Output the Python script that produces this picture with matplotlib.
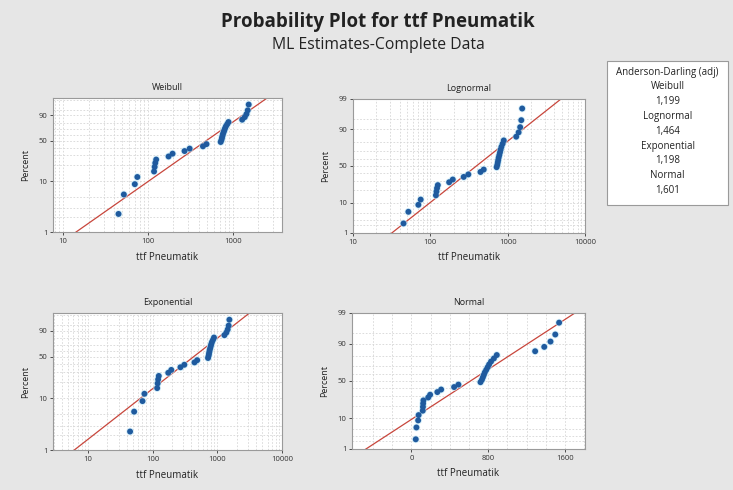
from statistics import NormalDist

import numpy as np
import matplotlib
matplotlib.use("Agg")
import matplotlib.pyplot as plt
from matplotlib.patches import Rectangle

plt.rcParams["font.family"] = ["Open Sans", "DejaVu Sans"]

# ttf values (sorted)
ttf = np.array([45, 52, 70, 75, 118, 120, 122, 125, 175, 195, 270, 310, 445, 490,
                720, 735, 745, 755, 765, 780, 795, 810, 830, 860, 890,
                1290, 1385, 1450, 1500, 1540], dtype=float)
ad_names = ["Weibull", "Lognormal", "Exponential", "Normal"]
ad_values = ["1,199", "1,464", "1,198", "1,601"]

BLUE = "#1f5a9e"
RED = "#c8463c"
GRID = "#d6d6d6"
BG = "#e6e6e6"

nd = NormalDist()
n = len(ttf)
pct = 100 * (np.arange(1, n + 1) - 0.3) / (n + 0.4)  # median ranks

inv_cdf = np.vectorize(nd.inv_cdf, otypes=[float])
cdf = np.vectorize(nd.cdf, otypes=[float])


# ---- probability scales ------------------------------------------------------
def _clip(p):
    return np.clip(np.asarray(p, dtype=float) / 100, 1e-9, 1 - 1e-9)


def norm_fwd(p):
    return inv_cdf(_clip(p))


def norm_inv(z):
    return 100 * cdf(np.asarray(z, dtype=float))


def sev_fwd(p):
    return np.log(-np.log(1 - _clip(p)))


def sev_inv(w):
    return 100 * (1 - np.exp(-np.exp(np.asarray(w, dtype=float))))


# ---- ML fits -----------------------------------------------------------------
def weibull_ml(x):
    lx = np.log(x)
    k = 1.0
    for _ in range(200):
        xk = x ** k
        s0, s1, s2 = xk.sum(), (xk * lx).sum(), (xk * lx ** 2).sum()
        f = s1 / s0 - 1 / k - lx.mean()
        df = (s2 * s0 - s1 ** 2) / s0 ** 2 + 1 / k ** 2
        k -= f / df
    lam = np.mean(x ** k) ** (1 / k)
    return k, lam


k_w, lam_w = weibull_ml(ttf)
mu_ln, sd_ln = np.log(ttf).mean(), np.log(ttf).std()
theta = ttf.mean()
mu_n, sd_n = ttf.mean(), ttf.std()

pgrid = np.linspace(0.05, 99.99, 600) / 100
lines = {
    "Weibull": lam_w * (-np.log(1 - pgrid)) ** (1 / k_w),
    "Lognormal": np.exp(mu_ln + sd_ln * inv_cdf(pgrid)),
    "Exponential": -theta * np.log(1 - pgrid),
    "Normal": mu_n + sd_n * inv_cdf(pgrid),
}

fig = plt.figure(figsize=(7.33, 4.90), dpi=100, facecolor=BG)

panels = {
    "Weibull": dict(rect=[0.0723, 0.5265, 0.3124, 0.2735], xlog=True, xlim=(7.6, 3800),
                    xt=[10, 100, 1000], yscale=(sev_fwd, sev_inv), ylim=(1, 99.4),
                    yt=[1, 10, 50, 90]),
    "Lognormal": dict(rect=[0.4816, 0.5245, 0.3165, 0.2735], xlog=True, xlim=(10, 10000),
                      xt=[10, 100, 1000, 10000], yscale=(norm_fwd, norm_inv), ylim=(1, 99),
                      yt=[1, 10, 50, 90, 99]),
    "Exponential": dict(rect=[0.0723, 0.0816, 0.3124, 0.2796], xlog=True, xlim=(2.9, 10000),
                        xt=[10, 100, 1000, 10000], yscale=(sev_fwd, sev_inv), ylim=(1, 99.4),
                        yt=[1, 10, 50, 90]),
    "Normal": dict(rect=[0.4802, 0.0837, 0.3179, 0.2776], xlog=False, xlim=(-620, 1810),
                   xt=[0, 800, 1600], yscale=(norm_fwd, norm_inv), ylim=(1, 99),
                   yt=[1, 10, 50, 90, 99]),
}
pct_grid = [1, 2, 3, 5, 10, 20, 30, 40, 50, 60, 70, 80, 90, 95, 99]

for name, cfg in panels.items():
    ax = fig.add_axes(cfg["rect"])
    ax.set_facecolor("white")
    if cfg["xlog"]:
        ax.set_xscale("log")
    ax.set_yscale("function", functions=cfg["yscale"])
    ax.set_xlim(*cfg["xlim"])
    ax.set_ylim(*cfg["ylim"])

    # grid
    if cfg["xlog"]:
        lo, hi = np.floor(np.log10(cfg["xlim"][0])), np.ceil(np.log10(cfg["xlim"][1]))
        gx = [m * 10 ** e for e in np.arange(lo, hi) for m in range(1, 10)]
    else:
        gx = np.arange(-400, 1801, 200)
    for g in gx:
        if cfg["xlim"][0] < g < cfg["xlim"][1]:
            ax.axvline(g, color=GRID, lw=0.6, ls=(0, (2, 2)), zorder=0)
    for g in pct_grid:
        if cfg["ylim"][0] < g < cfg["ylim"][1]:
            ax.axhline(g, color=GRID, lw=0.6, ls=(0, (2, 2)), zorder=0)

    ax.plot(lines[name], 100 * pgrid, color=RED, lw=0.9, zorder=2)
    ax.scatter(ttf, pct, s=30, color="#bfe6f7", edgecolor="none", alpha=0.7, zorder=3)
    ax.scatter(ttf, pct, s=18, color=BLUE, edgecolor="none", zorder=4)

    ax.set_xticks(cfg["xt"])
    ax.set_xticklabels([str(v) for v in cfg["xt"]])
    ax.xaxis.set_minor_locator(matplotlib.ticker.NullLocator())
    ax.set_yticks(cfg["yt"])
    ax.set_yticklabels([str(v) for v in cfg["yt"]])
    ax.yaxis.set_minor_locator(matplotlib.ticker.NullLocator())
    ax.tick_params(labelsize=5.5, colors="#333333", length=2.5, width=0.6, pad=1.5)
    for sp in ax.spines.values():
        sp.set_color("#9a9a9a")
        sp.set_linewidth(0.8)

    ax.set_title(name, fontsize=6.5, color="#222222", pad=6)
    ax.set_xlabel("ttf Pneumatik", fontsize=7, color="#222222", labelpad=5)
    ax.set_ylabel("Percent", fontsize=6.5, color="#222222", labelpad=6)

fig.text(0.516, 0.955, "Probability Plot for ttf Pneumatik", ha="center", va="center",
         fontsize=13.5, fontweight="bold", color="#222222")
fig.text(0.516, 0.908, "ML Estimates-Complete Data", ha="center", va="center",
         fontsize=11.3, color="#222222")

# Anderson-Darling box
bx0, bx1, by0, by1 = 607 / 733, 728 / 733, 1 - 205 / 490, 1 - 61 / 490
fig.patches.append(Rectangle((bx0, by0), bx1 - bx0, by1 - by0, transform=fig.transFigure,
                             facecolor="white", edgecolor="#9a9a9a", lw=0.8))
rows = ["Anderson-Darling (adj)"]
for nm, v in zip(ad_names, ad_values):
    rows += [nm, v]
for i, r in enumerate(rows):
    fig.text((bx0 + bx1) / 2, 1 - (72 + i * 14.8) / 490, r, ha="center", va="center",
             fontsize=7, color="#222222")

fig.savefig("out.png", dpi=100, facecolor=BG)
